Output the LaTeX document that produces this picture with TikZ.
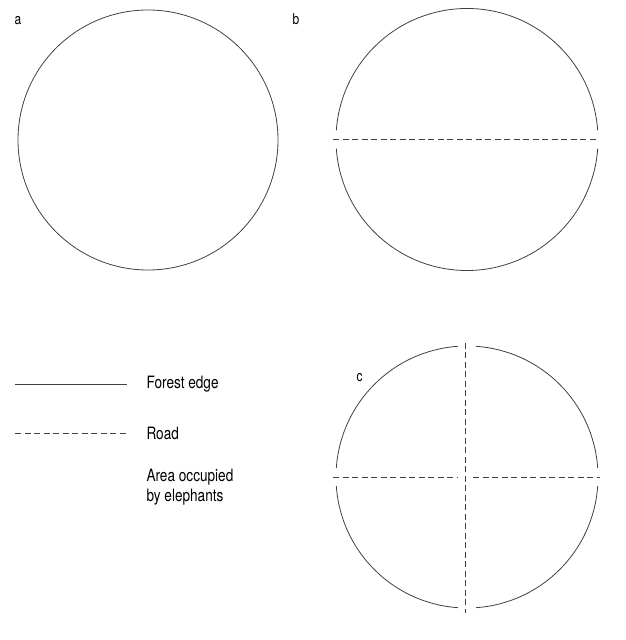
\documentclass[tikz,border=0pt]{standalone}
\usepackage{fontspec}
\setmainfont{TeX Gyre Heros}[FakeStretch=0.8]
\usetikzlibrary{positioning, calc}

\begin{document}
\begin{tikzpicture}[
		x=1pt, y=1pt,
		edge/.style={draw=black!75, line width=0.8pt},
		road/.style={draw=black!75, line width=0.8pt, dash pattern=on 6pt off 3.5pt},
		panel/.style={font=\fontsize{15}{17}\selectfont, anchor=west},
		legend/.style={font=\fontsize{17}{20}\selectfont, anchor=west, align=left},
	]
	\useasboundingbox (0,0) rectangle (626,640);

	% panel a: forest without road
	\coordinate (ca) at (148,500);
	\draw[edge] (ca) circle[radius=130];
	\node[panel] (la) at (11,619) {a};

	% panel b: one road across
	\coordinate (cb) at (467,500.5);
	\draw[edge] ($(cb)+(4:131)$) arc[start angle=4, end angle=176, radius=131];
	\draw[edge] ($(cb)+(184:131)$) arc[start angle=184, end angle=356, radius=131];
	\coordinate (bw) at ($(cb)+(-134,0)$);
	\coordinate (be) at ($(cb)+(132,0)$);
	\draw[road] (bw) -- (be);
	\node[panel] (lb) at (289,621) {b};

	% panel c: two crossing roads
	\coordinate (cc) at (467,163);
	\foreach \a in {0,90,180,270}
		\draw[edge] ($(cc)+(\a+4:131)$) arc[start angle=\a+4, end angle=\a+86, radius=131];
	\coordinate (cw) at ($(cc)+(-134,0)$);
	\coordinate (cwi) at ($(cc)+(-9,0)$);
	\coordinate (cei) at ($(cc)+(6,0)$);
	\coordinate (ce) at ($(cc)+(133,0)$);
	\coordinate (cn) at ($(cc)+(-2,134)$);
	\coordinate (cs) at ($(cc)+(-2,-136)$);
	\draw[road] (cw) -- (cwi);
	\draw[road] (cei) -- (ce);
	\draw[road] (cn) -- (cs);
	\node[panel] (lc) at (353,262) {c};

	% legend
	\coordinate (k1) at (15,256);
	\coordinate (k2) at (15,207);
	\node[legend] (tedge) at (143,256) {Forest edge};
	\node[legend] (troad) at (143,207) {Road};
	\node[legend] (tarea) at (143,153) {Area occupied\\by elephants};
	\draw[edge] (k1) -- ++(112,0);
	\draw[road] (k2) -- ++(112,0);
\end{tikzpicture}
\end{document}
